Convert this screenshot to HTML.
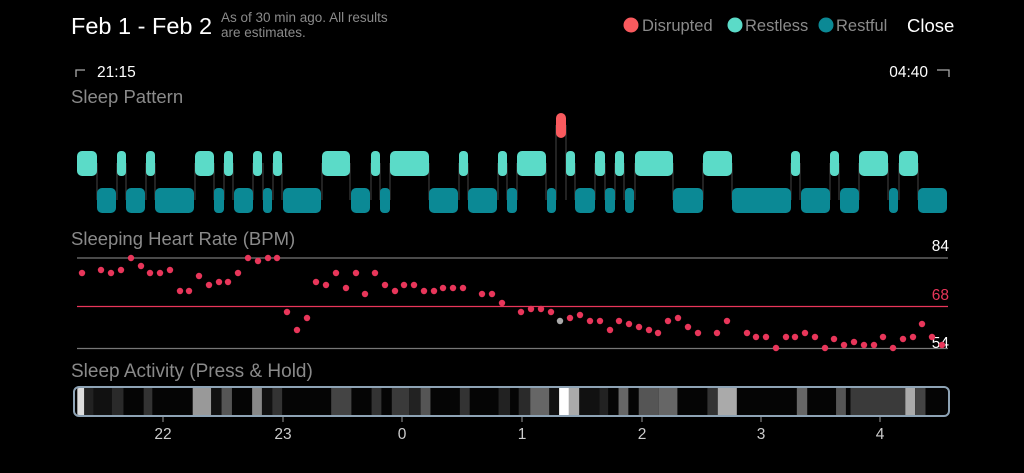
<!DOCTYPE html>
<html><head><meta charset="utf-8"><style>
html,body{margin:0;padding:0;background:#000;width:1024px;height:473px;overflow:hidden}
svg{display:block;font-family:"Liberation Sans",sans-serif}
</style></head><body>
<svg width="1024" height="473" viewBox="0 0 1024 473">
<text x="71" y="34" font-size="23.5" fill="#fff">Feb 1 - Feb 2</text>
<text x="221" y="22" font-size="13.5" fill="#8a8a8a">As of 30 min ago. All results</text>
<text x="221" y="37" font-size="13.5" fill="#8a8a8a">are estimates.</text>
<circle cx="631" cy="25" r="7.5" fill="#f95a5e"/><text x="642" y="31" font-size="16.5" fill="#8a8a8a">Disrupted</text>
<circle cx="735" cy="25" r="7.5" fill="#5bdbc8"/><text x="745" y="31" font-size="16.5" fill="#8a8a8a">Restless</text>
<circle cx="826" cy="25" r="7.5" fill="#0b8995"/><text x="836" y="31" font-size="16.5" fill="#8a8a8a">Restful</text>
<text x="907" y="32" font-size="18.5" fill="#fff">Close</text>
<path d="M76 77V70H85" stroke="#aaa" stroke-width="1.3" fill="none"/>
<text x="97" y="77" font-size="15.5" fill="#fff">21:15</text>
<text x="928" y="77" font-size="15.5" fill="#fff" text-anchor="end">04:40</text>
<path d="M937 70H949V77" stroke="#aaa" stroke-width="1.3" fill="none"/>
<text x="71" y="103" font-size="18.5" fill="#8a8a8a">Sleep Pattern</text>
<g stroke="#3a3a3a" stroke-width="1.2">
<path d="M97 163V200M117 163V200M126 163V200M146 163V200M155 163V200M195 163V200M214 163V200M224 163V200M233 163V200M253 163V200M263 163V200M273 163V200M282 163V200M322 163V200M350 163V200M371 163V200M380 163V200M390 163V200M429 163V200M459 163V200M468 163V200M498 163V200M507 163V200M517 163V200M546 163V200M556 125V200M566 125V200M575 163V200M595 163V200M605 163V200M615 163V200M624 163V200M635 163V200M673 163V200M703 163V200M732 163V200M791 163V200M800 163V200M830 163V200M839 163V200M859 163V200M888 163V200M899 163V200M918 163V200"/>
</g>
<g fill="#5bdbc8">
<rect x="77" y="151" width="20" height="25" rx="5"/><rect x="117" y="151" width="9" height="25" rx="4"/><rect x="146" y="151" width="9" height="25" rx="4"/><rect x="195" y="151" width="19" height="25" rx="5"/><rect x="224" y="151" width="9" height="25" rx="4"/><rect x="253" y="151" width="9" height="25" rx="4"/><rect x="273" y="151" width="9" height="25" rx="4"/><rect x="322" y="151" width="28" height="25" rx="5"/><rect x="371" y="151" width="9" height="25" rx="4"/><rect x="390" y="151" width="39" height="25" rx="5"/><rect x="459" y="151" width="9" height="25" rx="4"/><rect x="498" y="151" width="9" height="25" rx="4"/><rect x="517" y="151" width="29" height="25" rx="5"/><rect x="566" y="151" width="9" height="25" rx="4"/><rect x="595" y="151" width="10" height="25" rx="4"/><rect x="615" y="151" width="9" height="25" rx="4"/><rect x="635" y="151" width="38" height="25" rx="5"/><rect x="703" y="151" width="29" height="25" rx="5"/><rect x="791" y="151" width="9" height="25" rx="4"/><rect x="830" y="151" width="9" height="25" rx="4"/><rect x="859" y="151" width="29" height="25" rx="5"/><rect x="899" y="151" width="19" height="25" rx="5"/>
</g>
<g fill="#0b8995">
<rect x="97" y="188" width="19" height="25" rx="5"/><rect x="126" y="188" width="19" height="25" rx="5"/><rect x="155" y="188" width="39" height="25" rx="5"/><rect x="214" y="188" width="10" height="25" rx="4"/><rect x="234" y="188" width="19" height="25" rx="5"/><rect x="263" y="188" width="9" height="25" rx="4"/><rect x="283" y="188" width="38" height="25" rx="5"/><rect x="351" y="188" width="19" height="25" rx="5"/><rect x="380" y="188" width="10" height="25" rx="4"/><rect x="429" y="188" width="29" height="25" rx="5"/><rect x="468" y="188" width="29" height="25" rx="5"/><rect x="507" y="188" width="10" height="25" rx="4"/><rect x="547" y="188" width="9" height="25" rx="4"/><rect x="575" y="188" width="20" height="25" rx="5"/><rect x="605" y="188" width="10" height="25" rx="4"/><rect x="625" y="188" width="9" height="25" rx="4"/><rect x="673" y="188" width="30" height="25" rx="5"/><rect x="732" y="188" width="59" height="25" rx="5"/><rect x="801" y="188" width="29" height="25" rx="5"/><rect x="840" y="188" width="19" height="25" rx="5"/><rect x="889" y="188" width="9" height="25" rx="4"/><rect x="918" y="188" width="29" height="25" rx="5"/>
</g>
<rect x="556" y="113" width="10" height="25" rx="5" fill="#f95a5e"/>
<text x="71" y="245" font-size="18.5" fill="#8a8a8a">Sleeping Heart Rate (BPM)</text>
<line x1="77" y1="258" x2="948" y2="258" stroke="#777" stroke-width="1.3"/>
<line x1="77" y1="306.5" x2="948" y2="306.5" stroke="#e8365a" stroke-width="1.3"/>
<line x1="77" y1="348.5" x2="948" y2="348.5" stroke="#777" stroke-width="1.3"/>
<text x="949" y="251" font-size="15.5" fill="#fff" text-anchor="end">84</text>
<text x="949" y="300" font-size="15.5" fill="#e8365a" text-anchor="end">68</text>
<text x="949" y="348" font-size="15.5" fill="#fff" text-anchor="end">54</text>
<g fill="#e8365a">
<circle cx="82" cy="273" r="3.2"/><circle cx="101" cy="270" r="3.2"/><circle cx="111" cy="273" r="3.2"/><circle cx="121" cy="270" r="3.2"/><circle cx="131" cy="258" r="3.2"/><circle cx="141" cy="266" r="3.2"/><circle cx="150" cy="273" r="3.2"/><circle cx="160" cy="273" r="3.2"/><circle cx="170" cy="270" r="3.2"/><circle cx="180" cy="291" r="3.2"/><circle cx="189" cy="291" r="3.2"/><circle cx="199" cy="276" r="3.2"/><circle cx="209" cy="285" r="3.2"/><circle cx="219" cy="282" r="3.2"/><circle cx="228" cy="282" r="3.2"/><circle cx="238" cy="273" r="3.2"/><circle cx="248" cy="258" r="3.2"/><circle cx="258" cy="261" r="3.2"/><circle cx="268" cy="258" r="3.2"/><circle cx="277" cy="258" r="3.2"/><circle cx="287" cy="312" r="3.2"/><circle cx="297" cy="330" r="3.2"/><circle cx="307" cy="318" r="3.2"/><circle cx="316" cy="282" r="3.2"/><circle cx="326" cy="285" r="3.2"/><circle cx="336" cy="273" r="3.2"/><circle cx="346" cy="288" r="3.2"/><circle cx="356" cy="273" r="3.2"/><circle cx="365" cy="294" r="3.2"/><circle cx="375" cy="273" r="3.2"/><circle cx="385" cy="285" r="3.2"/><circle cx="395" cy="291" r="3.2"/><circle cx="404" cy="285" r="3.2"/><circle cx="414" cy="285" r="3.2"/><circle cx="424" cy="291" r="3.2"/><circle cx="434" cy="291" r="3.2"/><circle cx="443" cy="288" r="3.2"/><circle cx="453" cy="288" r="3.2"/><circle cx="463" cy="288" r="3.2"/><circle cx="482" cy="294" r="3.2"/><circle cx="492" cy="294" r="3.2"/><circle cx="502" cy="303" r="3.2"/><circle cx="521" cy="312" r="3.2"/><circle cx="531" cy="309" r="3.2"/><circle cx="541" cy="309" r="3.2"/><circle cx="551" cy="312" r="3.2"/><circle cx="570" cy="318" r="3.2"/><circle cx="580" cy="315" r="3.2"/><circle cx="590" cy="321" r="3.2"/><circle cx="600" cy="321" r="3.2"/><circle cx="610" cy="330" r="3.2"/><circle cx="619" cy="321" r="3.2"/><circle cx="629" cy="324" r="3.2"/><circle cx="639" cy="327" r="3.2"/><circle cx="649" cy="330" r="3.2"/><circle cx="658" cy="333" r="3.2"/><circle cx="668" cy="321" r="3.2"/><circle cx="678" cy="318" r="3.2"/><circle cx="688" cy="327" r="3.2"/><circle cx="698" cy="333" r="3.2"/><circle cx="717" cy="333" r="3.2"/><circle cx="727" cy="321" r="3.2"/><circle cx="747" cy="333" r="3.2"/><circle cx="756" cy="337" r="3.2"/><circle cx="766" cy="337" r="3.2"/><circle cx="776" cy="348" r="3.2"/><circle cx="786" cy="337" r="3.2"/><circle cx="795" cy="337" r="3.2"/><circle cx="805" cy="333" r="3.2"/><circle cx="815" cy="337" r="3.2"/><circle cx="825" cy="348" r="3.2"/><circle cx="834" cy="339" r="3.2"/><circle cx="844" cy="345" r="3.2"/><circle cx="854" cy="342" r="3.2"/><circle cx="864" cy="345" r="3.2"/><circle cx="874" cy="345" r="3.2"/><circle cx="883" cy="337" r="3.2"/><circle cx="893" cy="348" r="3.2"/><circle cx="903" cy="339" r="3.2"/><circle cx="913" cy="337" r="3.2"/><circle cx="922" cy="324" r="3.2"/><circle cx="932" cy="337" r="3.2"/><circle cx="942" cy="345" r="3.2"/>
</g>
<circle cx="560" cy="321" r="3.2" fill="#aaa"/>
<text x="71" y="377" font-size="19" fill="#8a8a8a">Sleep Activity (Press &amp; Hold)</text>
<clipPath id="c"><rect x="75" y="388" width="873" height="27" rx="4"/></clipPath>
<g clip-path="url(#c)"><rect x="70" y="385" width="890" height="35" fill="#050505"/>
<g transform="translate(60,0) scale(0.577,1)">
<rect x="30" y="386" width="12" height="30" fill="#ddd"/><rect x="42" y="386" width="16" height="30" fill="#222"/><rect x="58" y="386" width="32" height="30" fill="#111"/><rect x="90" y="386" width="20" height="30" fill="#2a2a2a"/><rect x="145" y="386" width="15" height="30" fill="#333"/><rect x="230" y="386" width="32" height="30" fill="#999"/><rect x="262" y="386" width="18" height="30" fill="#111"/><rect x="280" y="386" width="18" height="30" fill="#555"/><rect x="333" y="386" width="17" height="30" fill="#888"/><rect x="350" y="386" width="18" height="30" fill="#111"/><rect x="368" y="386" width="17" height="30" fill="#333"/><rect x="470" y="386" width="35" height="30" fill="#444"/><rect x="540" y="386" width="17" height="30" fill="#333"/><rect x="575" y="386" width="30" height="30" fill="#3a3a3a"/><rect x="605" y="386" width="20" height="30" fill="#222"/><rect x="625" y="386" width="17" height="30" fill="#555"/><rect x="693" y="386" width="17" height="30" fill="#333"/><rect x="760" y="386" width="20" height="30" fill="#222"/><rect x="795" y="386" width="20" height="30" fill="#2a2a2a"/><rect x="815" y="386" width="33" height="30" fill="#666"/><rect x="848" y="386" width="17" height="30" fill="#111"/><rect x="865" y="386" width="17" height="30" fill="#fff"/><rect x="882" y="386" width="18" height="30" fill="#aaa"/><rect x="900" y="386" width="35" height="30" fill="#111"/><rect x="935" y="386" width="15" height="30" fill="#222"/><rect x="968" y="386" width="17" height="30" fill="#666"/><rect x="1003" y="386" width="35" height="30" fill="#555"/><rect x="1038" y="386" width="32" height="30" fill="#666"/><rect x="1122" y="386" width="18" height="30" fill="#333"/><rect x="1140" y="386" width="33" height="30" fill="#aaa"/><rect x="1277" y="386" width="18" height="30" fill="#666"/><rect x="1345" y="386" width="17" height="30" fill="#555"/><rect x="1370" y="386" width="95" height="30" fill="#3a3a3a"/><rect x="1465" y="386" width="17" height="30" fill="#aaa"/><rect x="1482" y="386" width="18" height="30" fill="#444"/>
</g></g>
<rect x="74" y="387" width="875" height="29" rx="5" fill="none" stroke="#8ea3b5" stroke-width="2"/>
<g stroke="#999" stroke-width="1"><path d="M163 417V422M283 417V422M402 417V422M522 417V422M642 417V422M761 417V422M880 417V422"/></g>
<g font-size="15.5" fill="#ccc" text-anchor="middle">
<text x="163" y="439">22</text><text x="283" y="439">23</text><text x="402" y="439">0</text><text x="522" y="439">1</text><text x="642" y="439">2</text><text x="761" y="439">3</text><text x="880" y="439">4</text>
</g>
</svg>
</body></html>
